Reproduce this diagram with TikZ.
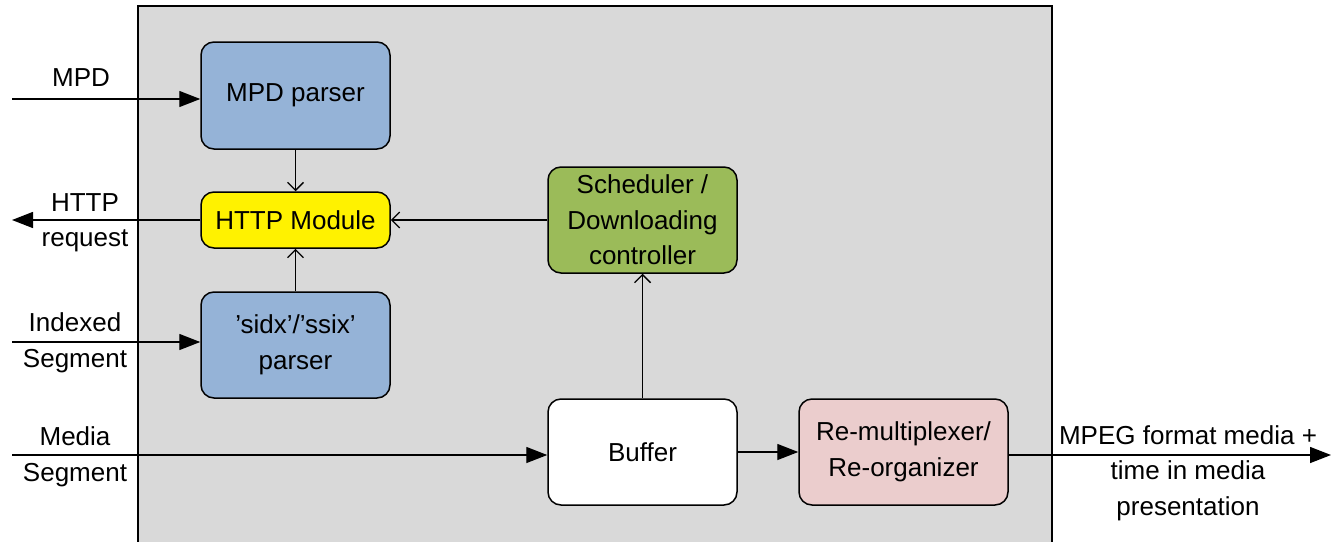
\documentclass[tikz,border=0pt]{standalone}
\usepackage{fontspec}
\setmainfont{Liberation Sans}
\usetikzlibrary{arrows.meta}
\definecolor{boxgray}{RGB}{217,217,217}
\definecolor{parserblue}{RGB}{149,179,215}
\definecolor{schedgreen}{RGB}{155,187,89}
\definecolor{remuxpink}{RGB}{235,205,205}
\begin{document}
\begin{tikzpicture}[x=1pt,y=-1pt,
  every node/.style={font=\fontsize{26}{35.5}\selectfont},
  blockbox/.style={draw=black,line width=1.5pt,rounded corners=13pt,align=center,inner sep=0pt},
  lbl/.style={align=center,inner sep=0pt},
  conn/.style={line width=1.4pt},
  filledtip/.style={-{Triangle[length=21pt,width=16pt]}},
  opentip/.style={-{Straight Barb[length=8pt,width=16pt,line width=1.4pt]}}
]
\useasboundingbox (0,0) rectangle (1333,541);
\begin{scope}
\clip (0,0) rectangle (1333,541);
\draw[fill=boxgray,line width=1.5pt] (138,6) rectangle (1052,560);
\end{scope}

\node[blockbox,fill=parserblue,minimum width=189pt,minimum height=107pt] (mpdp) at (295.5,95.5) {MPD parser};
\node[blockbox,fill=yellow,minimum width=189pt,minimum height=56pt] (http) at (295.5,220) {HTTP Module};
\node[blockbox,fill=parserblue,minimum width=189pt,minimum height=106pt] (sidx) at (295.5,345) {'sidx'/'ssix'\\parser};
\node[blockbox,fill=schedgreen,minimum width=189pt,minimum height=106pt] (sched) at (642.5,220) {Scheduler /\\Downloading\\controller};
\node[blockbox,fill=white,minimum width=189pt,minimum height=106pt] (buf) at (642.5,452) {Buffer};
\node[blockbox,fill=remuxpink,minimum width=209pt,minimum height=106pt] (remux) at (903.5,452) {Re-multiplexer/\\Re-organizer};

\coordinate (mpdin) at (12,99);
\coordinate (httpout) at (12,220);
\coordinate (idxin) at (12,342);
\coordinate (medin) at (12,455);
\coordinate (outend) at (1331,455);

\draw[conn,filledtip] (mpdin) -- (mpdin -| mpdp.west);
\draw[conn,filledtip] (http.west) -- (httpout);
\draw[conn,filledtip] (idxin) -- (idxin -| sidx.west);
\draw[conn,filledtip] (medin) -- (medin -| buf.west);
\draw[conn,filledtip] (buf.east) -- (buf.east -| remux.west);
\draw[conn,filledtip] (outend -| remux.east) -- (outend);

\draw[conn,opentip] (mpdp.south) -- (http.north);
\draw[conn,opentip] (sidx.north) -- (http.south);
\draw[conn,opentip] (sched.west) -- (http.east);
\draw[conn,opentip] (buf.north) -- (sched.south);

\node[lbl] (lmpd) at (81,78) {MPD};
\node[lbl] (lhttp) at (85,223) {HTTP\\request};
\node[lbl] (lidx) at (75,343) {Indexed\\Segment};
\node[lbl] (lmed) at (75,457) {Media\\Segment};
\node[lbl] (lout) at (1188,473) {MPEG format media +\\time in media\\presentation};
\end{tikzpicture}
\end{document}
